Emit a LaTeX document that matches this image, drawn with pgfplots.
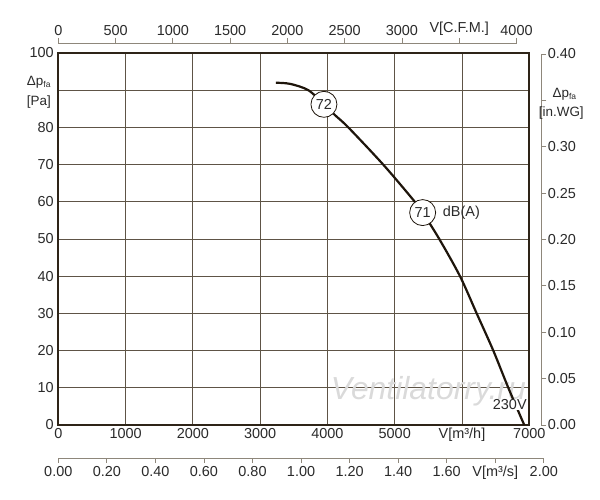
\documentclass[border=0pt]{standalone}
\usepackage{pgfplots}
\pgfplotsset{compat=1.18}
\usepackage{fontspec}
\setmainfont{Liberation Sans}
\definecolor{boxc}{HTML}{2E2418}
\definecolor{gridc}{HTML}{5E5446}
\definecolor{secc}{HTML}{8E877B}
\definecolor{txtc}{HTML}{2A2A2A}
\definecolor{curvec}{HTML}{1E150B}
\definecolor{wmc}{HTML}{DADADA}
\newcommand{\fs}{\fontsize{14.5}{17}\selectfont}
\newcommand{\fl}{\fontsize{13.5}{16}\selectfont}
\begin{document}
\begin{tikzpicture}
\path[use as bounding box] (-58.3bp,-75bp) rectangle (541.7bp,425bp);
% top CFM axis
\begin{axis}[scale only axis, width=458.2bp, height=372bp, at={(0,10bp)},
  axis x line*=top, axis y line=none, xmin=0, xmax=4000, ymin=0, ymax=1,
  xtick={0,500,1000,1500,2000,2500,3000,3500,4000},
  xticklabels={0,500,1000,1500,2000,2500,3000,V[C.F.M.],4000},
  tick align=outside, major tick length=5bp,
  x axis line style={secc, line width=0.8bp, -},
  tick style={secc, line width=0.8bp},
  ticklabel style={font=\fs, text=txtc},
  xticklabel style={yshift=-1.5bp}]
\addplot[draw=none] coordinates {(0,0)};
\end{axis}
% bottom m3/s axis
\begin{axis}[scale only axis, width=485.5bp, height=372bp, at={(0,-33bp)},
  axis x line*=bottom, axis y line=none, xmin=0, xmax=2, ymin=0, ymax=1,
  xtick={0,0.2,0.4,0.6,0.8,1,1.2,1.4,1.6,1.8,2},
  xticklabels={0.00,0.20,0.40,0.60,0.80,1.00,1.20,1.40,1.60,V[m³/s],2.00},
  tick align=outside, major tick length=5bp,
  x axis line style={secc, line width=0.8bp, -},
  tick style={secc, line width=0.8bp},
  ticklabel style={font=\fs, text=txtc}]
\addplot[draw=none] coordinates {(0,0)};
\end{axis}
% right in.WG axis
\begin{axis}[scale only axis, width=471bp, height=371bp, at={(12bp,0)},
  axis y line*=right, axis x line=none, xmin=0, xmax=1, ymin=0, ymax=0.4,
  ytick={0,0.05,0.1,0.15,0.2,0.25,0.3,0.35,0.4},
  yticklabels={0.00,0.05,0.10,0.15,0.20,0.25,0.30,,0.40},
  tick align=outside, major tick length=5bp,
  y axis line style={secc, line width=0.8bp, -},
  tick style={secc, line width=0.8bp},
  ticklabel style={font=\fs, text=txtc},
  yticklabel style={xshift=-2bp}]
\addplot[draw=none] coordinates {(0,0)};
\end{axis}
% main axis
\begin{axis}[scale only axis, width=471bp, height=372bp,
  xmin=0, xmax=7000, ymin=0, ymax=100,
  xtick={0,1000,2000,3000,4000,5000,6000,7000},
  ytick={0,10,20,30,40,50,60,70,80,90,100},
  xticklabels={0,1000,2000,3000,4000,5000,V[m³/h],7000},
  yticklabels={0,10,20,30,40,50,60,70,80,,100},
  grid=major, major grid style={gridc, line width=0.8bp},
  major tick length=0pt,
  axis line style={boxc, line width=2bp},
  ticklabel style={font=\fs, text=txtc},
  yticklabel style={xshift=-1bp},
  clip=false]
\node[font=\fontsize{32}{36}\selectfont\itshape, text=wmc, anchor=center]
  at (axis cs:5500,9.0) {Ventilatorry.ru};
\addplot[curvec, line width=2.2bp, smooth, tension=0.5] coordinates {
(3235,92.0) (3447,91.7) (3716,90.0) (3948,86.2) (4112,83.3) (4310,80.0)
(4829,70.0) (5276,60.5) (5415,57.1) (5662,50.0) (5970,40.0) (6218,30.0)
(6465,20.0) (6688,10.0) (6925,0)};
\node[circle, draw=curvec, fill=white, line width=0.8bp, minimum size=26bp,
  inner sep=0pt, font=\fs, text=txtc] at (axis cs:3948,86.2) {72};
\node[circle, draw=curvec, fill=white, line width=0.8bp, minimum size=26bp,
  inner sep=0pt, font=\fs, text=txtc] at (axis cs:5415,57.1) {71};
\node[anchor=west, inner sep=0pt, font=\fs, text=txtc] at (axis cs:5713,57.1) {dB(A)};
\node[anchor=center, fill=white, inner sep=0.5bp, font=\fs, text=txtc]
  at (axis cs:6710,5.6) {230V};
\end{axis}
% axis titles
\node[anchor=west, inner sep=0pt, font=\fl, text=txtc] at (-31.5bp,343bp)
  {Δp\raisebox{-2.5bp}{\fontsize{8.5}{9}\selectfont fa}};
\node[anchor=west, inner sep=0pt, font=\fl, text=txtc] at (-31.5bp,323bp) {[Pa]};
\node[anchor=center, inner sep=0pt, font=\fl, text=txtc] at (506bp,331bp)
  {Δp\raisebox{-2.5bp}{\fontsize{8.5}{9}\selectfont fa}};
\node[anchor=center, inner sep=0pt, font=\fl, text=txtc] at (503bp,312bp) {[in.WG]};
\end{tikzpicture}
\end{document}
